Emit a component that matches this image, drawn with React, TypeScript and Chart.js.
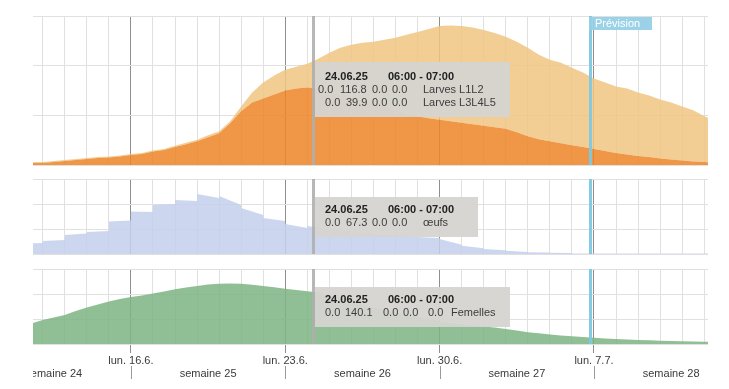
import React, { useEffect, useRef } from 'react';
import { Chart, registerables } from 'chart.js';

Chart.register(...registerables);

// ---- x domain: days relative to Monday 16.6. ----
const X_MIN = -4.44;
const X_MAX = 26.17;
const CURSOR_DAY = 8.25; // 24.06. 06:00
const FORECAST_DAY = 20.8; // start of "Prévision"

const dayTicks: number[] = [];
for (let d = -4; d <= 26; d++) dayTicks.push(d);

const mondays = [0, 7, 14, 21];
const mondayLabels = ['lun. 16.6.', 'lun. 23.6.', 'lun. 30.6.', 'lun. 7.7.'];
const weekCenters = [-3.5, 3.5, 10.5, 17.5, 24.5];
const weekLabels = ['semaine 24', 'semaine 25', 'semaine 26', 'semaine 27', 'semaine 28'];
const weekSeparators = [0, 7, 14, 21];

// half-day sample positions for the smooth series
const halfDays: number[] = [];
for (let i = 0; i <= 62; i++) halfDays.push(-4.5 + i * 0.5);

// Larves L3L4L5 (dark orange)
const larvesL3L4L5 = [
  2, 2, 3, 4, 5, 6, 7, 7.5, 8.5, 10, 11, 13.5, 15, 18, 21, 24, 28, 32, 42, 54,
  63, 67, 71, 75, 77, 78, 77, 74, 71, 68, 65, 62, 59, 55, 52, 49, 47, 45.5, 44,
  42.5, 41, 39.5, 38, 36.5, 33, 29, 26, 24, 22, 20, 18, 16, 14, 12, 10.5, 9, 8,
  6.5, 5.5, 4.5, 3.5, 3, 2.5,
];
// Larves L1L2 (light orange, upper boundary)
const larvesL1L2 = [
  3, 3, 4, 5, 6, 7, 8, 8.5, 9.5, 11, 12, 14.5, 16, 19.5, 22.5, 25.5, 30, 34, 44,
  59, 73, 83, 90, 96, 99, 102, 107, 113, 118, 121, 123, 124, 126, 128, 131, 134,
  137, 140, 140.5, 140, 138.5, 136, 133, 129, 124, 118, 111, 106, 103, 98, 93,
  87, 83, 79, 77, 73, 70, 66, 63, 59, 55, 49, 45,
];
// Femelles (green)
const femelles = [
  20.5, 24, 26.5, 29, 33, 36.5, 39.5, 42.5, 45, 47, 48.5, 50.5, 52.5, 54.7, 56.5,
  58, 59.5, 60.3, 60.5, 60.3, 59.3, 58, 56.7, 55.3, 54, 52.7, 51.5, 49, 46, 43,
  39.5, 36.5, 34, 31.5, 29, 27, 25, 23, 21, 19.5, 18.5, 17.5, 16.5, 15, 13.5,
  11.8, 10.8, 9.6, 8.6, 7.8, 7, 6.2, 5.5, 5, 4.5, 4, 3.7, 3.3, 3, 2.8, 2.5, 2.3, 2,
];
// Œufs (blue, daily steps): value at start and end of each day
const eggDays = [-5, -4, -3, -2, -1, 0, 1, 2, 3, 4, 5, 6, 7, 8, 9, 10, 11, 12, 13, 14, 15, 16, 17, 18, 19, 20, 21, 22, 23, 24, 25, 26];
const eggStart = [25.7, 31.2, 45.6, 52.8, 78, 102, 117.6, 129.6, 144, 139.2, 110.4, 86.4, 72, 67.2, 58.8, 52.8, 48, 44.4, 40.8, 36, 20, 12, 8, 4.5, 3, 1.5, 1.5, 1.5, 1.5, 1.5, 1.5, 1.5];
const eggEnd = [26.4, 33.6, 49.2, 55.2, 80.4, 100.8, 120, 127.2, 134.4, 117.6, 93.6, 79.2, 62.4, 60, 55.2, 50.4, 45.6, 42, 38.4, 22, 14, 9, 5, 3.5, 2.5, 1.5, 1.5, 1.5, 1.5, 1.5, 1.5, 1.5];

// tooltip texts
const tipHeader = ['24.06.25', '06:00 - 07:00'];
const tipLarvesL1L2 = ['0.0', '116.8', '0.0', '0.0', 'Larves L1L2'];
const tipLarvesL3 = ['0.0', '39.9', '0.0', '0.0', 'Larves L3L4L5'];
const tipOeufs = ['0.0', '67.3', '0.0', '0.0', 'œufs'];
const tipFemelles = ['0.0', '140.1', '0.0', '0.0', '0.0', 'Femelles'];
const forecastLabel = 'Prévision';

// ---- layout (not data) ----
const FONT = '"Liberation Sans", Arial, Helvetica, sans-serif';
const W = 729;

type Row = { texts: string[]; xs: number[]; dy: number; bold?: boolean };
type Tip = { dy: number; w: number; h: number; rows: Row[] };

const headerXs = [12, 75];

const tipTop: Tip = {
  dy: 46, w: 195, h: 55,
  rows: [
    { texts: tipHeader, xs: headerXs, dy: 15, bold: true },
    { texts: tipLarvesL1L2, xs: [5, 27, 59, 79, 110], dy: 28 },
    { texts: tipLarvesL3, xs: [12, 33, 59, 79, 110], dy: 41 },
  ],
};
const tipMid: Tip = {
  dy: 18, w: 163, h: 40,
  rows: [
    { texts: tipHeader, xs: headerXs, dy: 13, bold: true },
    { texts: tipOeufs, xs: [12, 33, 59, 79, 110], dy: 26 },
  ],
};
const tipBot: Tip = {
  dy: 18, w: 195, h: 40,
  rows: [
    { texts: tipHeader, xs: headerXs, dy: 13, bold: true },
    { texts: tipFemelles, xs: [12, 32, 70, 90, 115, 138], dy: 26 },
  ],
};

const isMonday = (v: number) => mondays.includes(Math.round(v * 1000) / 1000);

function overlayPlugin(tip: Tip, showForecastLabel: boolean, showWeeks: boolean) {
  return {
    id: 'overlay',
    afterDraw(chart: any) {
      const ctx: CanvasRenderingContext2D = chart.ctx;
      const area = chart.chartArea;
      const xs = chart.scales.x;
      const cx = Math.round(xs.getPixelForValue(CURSOR_DAY));
      const fx = Math.round(xs.getPixelForValue(FORECAST_DAY));
      ctx.save();
      // forecast line
      ctx.strokeStyle = 'rgba(125,200,225,0.95)';
      ctx.lineWidth = 3;
      ctx.beginPath();
      ctx.moveTo(fx + 0.5, area.top);
      ctx.lineTo(fx + 0.5, area.bottom);
      ctx.stroke();
      if (showForecastLabel) {
        ctx.fillStyle = 'rgba(150,208,230,0.95)';
        ctx.fillRect(fx - 1, area.top + 1, 63, 13);
        ctx.fillStyle = '#ffffff';
        ctx.font = `11px ${FONT}`;
        ctx.textBaseline = 'middle';
        ctx.textAlign = 'left';
        ctx.fillText(forecastLabel, fx + 5, area.top + 7.5);
      }
      // cursor line
      ctx.strokeStyle = 'rgba(175,175,175,0.9)';
      ctx.lineWidth = 3;
      ctx.beginPath();
      ctx.moveTo(cx + 0.5, area.top);
      ctx.lineTo(cx + 0.5, area.bottom);
      ctx.stroke();
      // tooltip box
      const bx = cx + 2;
      const by = area.top + tip.dy;
      ctx.fillStyle = 'rgba(214,212,209,0.96)';
      ctx.fillRect(bx, by, tip.w, tip.h);
      ctx.textBaseline = 'middle';
      ctx.textAlign = 'left';
      for (const row of tip.rows) {
        ctx.font = `${row.bold ? 'bold ' : ''}11px ${FONT}`;
        ctx.fillStyle = row.bold ? '#222222' : '#3c3c3c';
        row.texts.forEach((t, i) => ctx.fillText(t, cx + row.xs[i], by + row.dy));
      }
      // week row
      if (showWeeks) {
        ctx.save();
        ctx.beginPath();
        ctx.rect(area.left, area.bottom, area.right - area.left, chart.height - area.bottom);
        ctx.clip();
        ctx.font = `11px ${FONT}`;
        ctx.fillStyle = '#3a3a3a';
        ctx.textAlign = 'center';
        ctx.textBaseline = 'middle';
        weekCenters.forEach((v, i) => ctx.fillText(weekLabels[i], xs.getPixelForValue(v), area.bottom + 30));
        ctx.strokeStyle = '#9a9a9a';
        ctx.lineWidth = 1;
        weekSeparators.forEach((v) => {
          const px = Math.round(xs.getPixelForValue(v)) + 0.5;
          ctx.beginPath();
          ctx.moveTo(px, area.bottom + 22);
          ctx.lineTo(px, area.bottom + 35);
          ctx.stroke();
        });
        ctx.restore();
      }
      ctx.restore();
    },
  };
}

function makeOptions(yMax: number, yStep: number, showX: boolean, padTop: number, padBottom: number) {
  return {
    responsive: false,
    animation: false,
    events: [],
    devicePixelRatio: 1,
    layout: { padding: { left: 33, right: 21, top: padTop, bottom: padBottom } },
    plugins: { legend: { display: false }, tooltip: { enabled: false } },
    elements: { point: { radius: 0 }, line: { tension: 0, borderWidth: 0 } },
    scales: {
      x: {
        type: 'linear',
        min: X_MIN,
        max: X_MAX,
        afterBuildTicks: (s: any) => {
          s.ticks = dayTicks.map((v) => ({ value: v }));
        },
        afterFit: (s: any) => {
          s.height = showX ? 45 : 0;
        },
        border: { display: false },
        grid: {
          color: (c: any) => (c.tick && isMonday(c.tick.value) ? '#8e8e8e' : '#e0e0e0'),
          lineWidth: 1,
          drawTicks: showX,
          tickLength: 9,
          tickColor: (c: any) => (c.tick && isMonday(c.tick.value) ? '#8e8e8e' : 'rgba(0,0,0,0)'),
        },
        ticks: {
          display: showX,
          autoSkip: false,
          maxRotation: 0,
          minRotation: 0,
          padding: 1,
          color: '#3a3a3a',
          font: { size: 11, family: FONT },
          callback: (v: any) => {
            const i = mondays.indexOf(Math.round(Number(v) * 1000) / 1000);
            return i >= 0 ? mondayLabels[i] : '';
          },
        },
      },
      y: {
        min: 0,
        max: yMax,
        afterFit: (s: any) => {
          s.width = 0;
        },
        border: { display: false },
        grid: { color: '#e0e0e0', drawTicks: false, lineWidth: 1 },
        ticks: { display: false, stepSize: yStep },
      },
    },
  };
}

export default function App() {
  const topRef = useRef<HTMLCanvasElement>(null);
  const midRef = useRef<HTMLCanvasElement>(null);
  const botRef = useRef<HTMLCanvasElement>(null);

  useEffect(() => {
    Chart.defaults.font.family = FONT;
    const charts: Chart[] = [];

    const darkPts = halfDays.map((x, i) => ({ x, y: larvesL3L4L5[i] }));
    const lightPts = halfDays.map((x, i) => ({ x, y: larvesL1L2[i] }));
    const greenPts = halfDays.map((x, i) => ({ x, y: femelles[i] }));
    const eggPts: { x: number; y: number }[] = [];
    eggDays.forEach((d, i) => {
      eggPts.push({ x: d, y: eggStart[i] });
      eggPts.push({ x: d + 1, y: eggEnd[i] });
    });

    if (topRef.current) {
      charts.push(
        new Chart(topRef.current, {
          type: 'line',
          data: {
            datasets: [
              { label: 'Larves L3L4L5', data: darkPts, fill: 'origin', backgroundColor: 'rgba(236,134,40,0.86)', borderWidth: 0, pointRadius: 0 },
              { label: 'Larves L1L2', data: lightPts, fill: '-1', backgroundColor: 'rgba(240,198,132,0.86)', borderWidth: 0, pointRadius: 0 },
            ],
          },
          options: makeOptions(150, 50, false, 16, 5) as any,
          plugins: [overlayPlugin(tipTop, true, false)],
        })
      );
    }
    if (midRef.current) {
      charts.push(
        new Chart(midRef.current, {
          type: 'line',
          data: {
            datasets: [
              { label: 'œufs', data: eggPts, fill: 'origin', backgroundColor: 'rgba(196,209,236,0.86)', borderWidth: 0, pointRadius: 0 },
            ],
          },
          options: makeOptions(180, 60, false, 9, 8) as any,
          plugins: [overlayPlugin(tipMid, false, false)],
        })
      );
    }
    if (botRef.current) {
      charts.push(
        new Chart(botRef.current, {
          type: 'line',
          data: {
            datasets: [
              { label: 'Femelles', data: greenPts, fill: 'origin', backgroundColor: 'rgba(126,180,132,0.86)', borderWidth: 0, pointRadius: 0 },
            ],
          },
          options: makeOptions(75, 25, true, 7, 0) as any,
          plugins: [overlayPlugin(tipBot, false, true)],
        })
      );
    }
    return () => charts.forEach((c) => c.destroy());
  }, []);

  return (
    <div style={{ position: 'absolute', left: 0, top: 0, width: W, height: 389, background: '#ffffff' }}>
      <canvas ref={topRef} width={W} height={170} style={{ position: 'absolute', left: 0, top: 0, display: 'block' }} />
      <canvas ref={midRef} width={W} height={92} style={{ position: 'absolute', left: 0, top: 170, display: 'block' }} />
      <canvas ref={botRef} width={W} height={127} style={{ position: 'absolute', left: 0, top: 262, display: 'block' }} />
    </div>
  );
}
